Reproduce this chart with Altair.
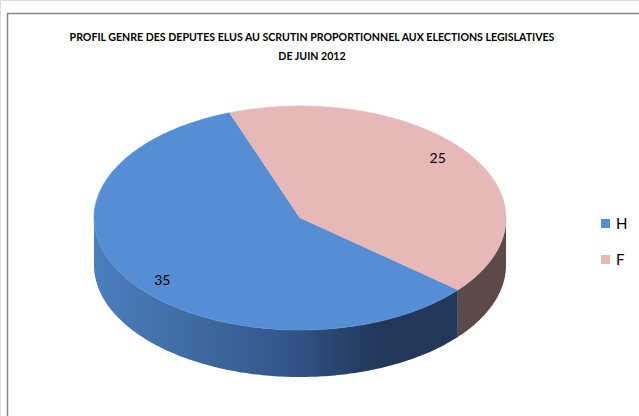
import altair as alt
import pandas as pd

# ---- data ----
genres = ["H", "F"]
values = [35, 25]
top_colors = ["#558ed5", "#e6b9b8"]
title_lines = [
    "PROFIL GENRE DES DEPUTES ELUS AU SCRUTIN PROPORTIONNEL AUX ELECTIONS LEGISLATIVES",
    "DE JUIN 2012",
]

# ---- layout / style constants ----
W, H = 639, 416
CX, CY, RX, RY, DEPTH = 300, 218, 206, 112, 47
START = 130          # degrees, clockwise from top, where the first slice starts
N = 240              # arc resolution
LABEL_R = 0.86
LABEL_SHIFT = -4     # degrees
FONT = "Lato"

xdom = [-CX / RX, (W - CX) / RX]
ydom = [(CY - H) / RY, CY / RY]
D = DEPTH / RY

df = pd.DataFrame({"genre": genres, "value": values, "idx": list(range(len(genres)))})

xs = alt.Scale(domain=xdom, nice=False, zero=False)
ys = alt.Scale(domain=ydom, nice=False, zero=False)
X = alt.X("px:Q", scale=xs, axis=None)
Y = alt.Y("py:Q", scale=ys, axis=None)

base = (
    alt.Chart(df)
    .transform_joinaggregate(total="sum(value)")
    .transform_window(cum="sum(value)", sort=[alt.SortField("idx")], frame=[None, 0])
    .transform_calculate(
        a0=f"{START} + 360*(datum.cum - datum.value)/datum.total",
        a1=f"{START} + 360*datum.cum/datum.total",
    )
)


def top_face(g, color):
    return (
        base.transform_filter(alt.datum.genre == g)
        .transform_calculate(k=f"sequence(-1, {N + 1})")
        .transform_flatten(["k"])
        .transform_calculate(
            t=f"(datum.a0 + (datum.a1 - datum.a0)*max(datum.k, 0)/{N})*PI/180",
        )
        .transform_calculate(
            px="datum.k < 0 ? 0 : sin(datum.t)",
            py="datum.k < 0 ? 0 : cos(datum.t)",
        )
        .mark_line(fill=color, stroke=color, strokeWidth=0.6)
        .encode(x=X, y=Y, order="k:Q")
    )


def side_face(g, fill):
    return (
        base.transform_filter(alt.datum.genre == g)
        .transform_calculate(j=f"sequence(0, {2 * N + 2})")
        .transform_flatten(["j"])
        .transform_calculate(
            k=f"datum.j <= {N} ? datum.j : {2 * N + 1} - datum.j",
        )
        .transform_calculate(
            t=f"(datum.a0 + (datum.a1 - datum.a0)*datum.k/{N})*PI/180",
        )
        .transform_filter("cos(datum.t) <= 1e-9")
        .transform_calculate(
            px="sin(datum.t)",
            py=f"cos(datum.t) - (datum.j > {N} ? {D} : 0)",
        )
        .mark_line(fill=fill, strokeWidth=0)
        .encode(x=X, y=Y, order="j:Q")
    )


h_side_grad = alt.Gradient(
    gradient="linear",
    x1=0, x2=1, y1=0, y2=0,
    stops=[
        alt.GradientStop(offset=0, color="#4b7ebf"),
        alt.GradientStop(offset=0.3, color="#3e689e"),
        alt.GradientStop(offset=0.52, color="#33578a"),
        alt.GradientStop(offset=0.78, color="#22375a"),
        alt.GradientStop(offset=1, color="#22375a"),
    ],
)

# hidden squares (under the top face) that carry the legend
legend_layer = (
    base.transform_calculate(px="0", py="0")
    .mark_square(size=1, opacity=1)
    .encode(
        x=X,
        y=Y,
        color=alt.Color(
            "genre:N",
            scale=alt.Scale(domain=genres, range=top_colors),
            sort=genres,
            legend=alt.Legend(
                title=None,
                orient="none",
                legendX=598,
                legendY=216,
                symbolType="square",
                symbolSize=81,
                symbolStrokeWidth=0,
                labelFont=FONT,
                labelFontSize=15,
                labelColor="#000000",
                labelOffset=3,
                rowPadding=20,
            ),
        ),
    )
)

labels = (
    base.transform_calculate(m=f"((datum.a0 + datum.a1)/2 + {LABEL_SHIFT})*PI/180")
    .transform_calculate(px=f"{LABEL_R}*sin(datum.m)", py=f"{LABEL_R}*cos(datum.m)")
    .mark_text(font=FONT, fontSize=14, color="#000000", baseline="middle", align="center", dy=2)
    .encode(x=X, y=Y, text="value:Q")
)

title_df = pd.DataFrame({"line": title_lines, "row": list(range(len(title_lines)))})
title = (
    alt.Chart(title_df)
    .mark_text(font=FONT, fontWeight="bold", fontSize=10.6, color="#000000",
               align="center", baseline="alphabetic")
    .encode(
        x=alt.value(312),
        y=alt.Y("row:Q", scale=alt.Scale(domain=[0, 1], range=[41, 60]), axis=None),
        text="line:N",
    )
)

border = (
    alt.Chart(pd.DataFrame({"a": [0]}))
    .mark_rect(fillOpacity=0, stroke="#888888", strokeWidth=1.5)
    .encode(x=alt.value(7.5), x2=alt.value(W + 20), y=alt.value(13.5), y2=alt.value(H + 20))
)

chart = (
    alt.layer(
        border,
        legend_layer,
        side_face("H", h_side_grad),
        side_face("F", "#5b4a48"),
        top_face("H", top_colors[0]),
        top_face("F", top_colors[1]),
        labels,
        title,
    )
    .resolve_scale(y="independent")
    .properties(width=W, height=H, autosize=alt.AutoSizeParams(type="none"), padding=0)
    .configure_view(stroke=None)
    .configure(background="#ffffff")
)

chart.save("out.html", embed_options={"renderer": "svg", "actions": False})
